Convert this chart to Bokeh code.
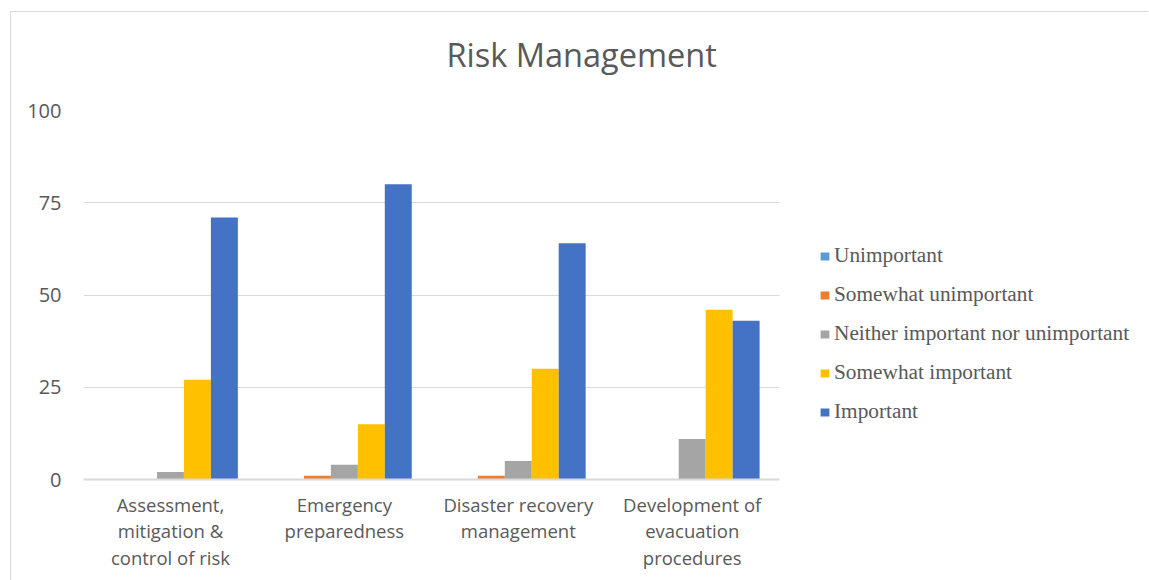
import numpy as np
from bokeh.plotting import figure
from bokeh.models import Range1d, FixedTicker, Legend, LegendItem, Title, ColumnDataSource
from bokeh.transform import dodge
from bokeh.embed import file_html
from bokeh.resources import INLINE

categories = ["Assessment,\nmitigation &\ncontrol of risk", "Emergency\npreparedness",
              "Disaster recovery\nmanagement", "Development of\nevacuation\nprocedures"]
series_names = ["Unimportant", "Somewhat unimportant", "Neither important nor unimportant",
                "Somewhat important", "Important"]
unimportant = [0, 0, 0, 0]
somewhat_unimportant = [0, 1, 1, 0]
neither = [2, 4, 5, 11]
somewhat_important = [27, 15, 30, 46]
important = [71, 80, 64, 43]
y_ticks = [0, 25, 50, 75, 100]

colors = ["#5B9BD5", "#ED7D31", "#A5A5A5", "#FFC000", "#4472C4"]

n = len(categories)
xc = list(np.arange(n) + 0.5)
src = ColumnDataSource(dict(x=xc, s0=unimportant, s1=somewhat_unimportant,
                            s2=neither, s3=somewhat_important, s4=important))

# plot area spans the categories on its left part; legend sits to the right inside the frame
x_end = n * 1065 / 695
p = figure(width=1138, height=569, x_range=Range1d(0, x_end), y_range=Range1d(0, 100),
           output_backend="svg", toolbar_location=None,
           min_border_left=72, min_border_top=98, min_border_bottom=102, min_border_right=0)
p.margin = (11, 0, 0, 10)
p.styles = {"border-left": "1px solid #d9d9d9", "border-top": "1px solid #d9d9d9"}
p.outline_line_color = None
p.background_fill_color = "white"
p.border_fill_color = "white"

w = 0.155
items = []
for i, (name, col) in enumerate(zip(series_names, colors)):
    r = p.vbar(x=dodge("x", (i - 2) * w), top="s%d" % i, width=w,
               source=src, fill_color=col, line_color=None)
    items.append(LegendItem(label=name, renderers=[r]))

p.title = Title(text="Risk Management", align="left", offset=363,
                text_font="Open Sans", text_font_size="32.5px", text_font_style="normal",
                text_color="#595959", standoff=33)
# small empty spacer between the title and the plot area
p.add_layout(Title(text=" ", text_font_size="8px", standoff=6), "above")

p.xgrid.visible = False
if "cross_bounds" in p.ygrid.properties():
    p.ygrid.cross_bounds = (0, n)
    p.ygrid.grid_line_color = "#d9d9d9"
    p.ygrid.grid_line_width = 1
else:
    p.ygrid.visible = False
    p.segment(x0=[0] * len(y_ticks[1:]), x1=[n] * len(y_ticks[1:]), y0=y_ticks[1:], y1=y_ticks[1:],
              line_color="#d9d9d9", line_width=1, level="underlay")

p.yaxis.ticker = FixedTicker(ticks=y_ticks)
p.yaxis.axis_line_color = None
p.yaxis.major_tick_line_color = None
p.yaxis.minor_tick_line_color = None
p.yaxis.major_label_text_font = "Open Sans"
p.yaxis.major_label_text_font_size = "20px"
p.yaxis.major_label_text_color = "#595959"
p.yaxis.major_label_standoff = 16

p.xaxis.ticker = FixedTicker(ticks=xc)
p.xaxis.major_label_overrides = {float(x): c for x, c in zip(xc, categories)}
p.xaxis.bounds = (0, n)
p.xaxis.axis_line_color = "#d9d9d9"
p.xaxis.axis_line_width = 2
p.xaxis.major_tick_line_color = None
p.xaxis.minor_tick_line_color = None
p.xaxis.major_label_text_font = "Open Sans"
p.xaxis.major_label_text_font_size = "18.5px"
p.xaxis.major_label_text_line_height = 1.07
p.xaxis.major_label_text_color = "#595959"
p.xaxis.major_label_standoff = 6

legend = Legend(items=items, location=(736, 55), orientation="vertical",
                label_text_font="Liberation Serif", label_text_font_size="21.3px",
                label_text_color="#595959", glyph_width=11, glyph_height=10,
                label_standoff=4, label_height=20, spacing=14, padding=0, margin=0,
                border_line_color=None, background_fill_alpha=0)
p.add_layout(legend, "center")

open("out.html", "w").write(file_html(p, INLINE))
